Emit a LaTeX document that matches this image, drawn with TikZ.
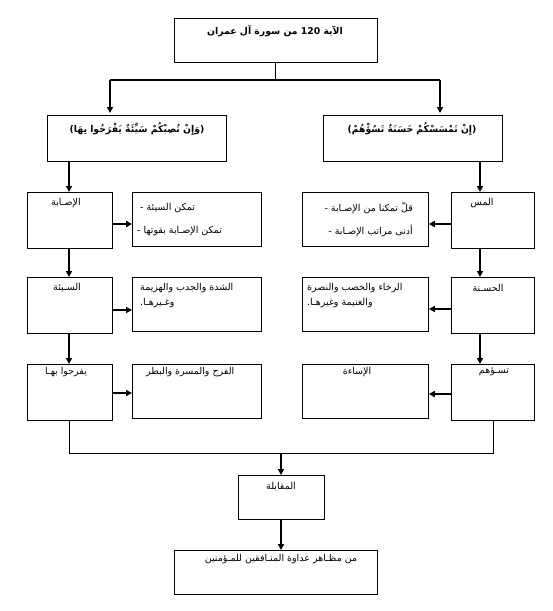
\documentclass[tikz,border=0pt]{standalone}
\usepackage{fontspec}
\newfontfamily\arabicfont[Script=Arabic]{DejaVu Sans}
\TeXXeTstate=1
\usetikzlibrary{arrows.meta}
\tikzset{
  box/.style={draw=black, line width=0.8pt, anchor=north west, inner sep=0pt},
  txt/.style={font=\arabicfont\fontsize{9.5}{11}\selectfont, inner sep=0pt},
  btxt/.style={font=\arabicfont\bfseries\fontsize{9.3}{11}\selectfont, inner sep=0pt},
  arr/.style={line width=1.6pt, -{Triangle[length=6pt,width=6pt]}},
  thickline/.style={line width=1.6pt},
  thinline/.style={line width=0.8pt}
}
\begin{document}
\begin{tikzpicture}[x=1pt,y=-1pt]
\useasboundingbox (0,0) rectangle (553,611);
% boxes
\node[box, minimum width=203pt, minimum height=44pt] (top) at (174,18) {};
\node[box, minimum width=179pt, minimum height=46pt] (bl) at (47,115) {};
\node[box, minimum width=179pt, minimum height=46pt] (br) at (323,115) {};
\node[box, minimum width=85pt, minimum height=56pt] (l1) at (27,192) {};
\node[box, minimum width=129pt, minimum height=54pt] (l1d) at (132,192) {};
\node[box, minimum width=126pt, minimum height=54pt] (r1d) at (302,192) {};
\node[box, minimum width=83pt, minimum height=56pt] (r1) at (451,192) {};
\node[box, minimum width=85pt, minimum height=56pt] (l2) at (27,277) {};
\node[box, minimum width=129pt, minimum height=54pt] (l2d) at (132,277) {};
\node[box, minimum width=126pt, minimum height=54pt] (r2d) at (302,277) {};
\node[box, minimum width=83pt, minimum height=56pt] (r2) at (451,277) {};
\node[box, minimum width=85pt, minimum height=56pt] (l3) at (27,364) {};
\node[box, minimum width=129pt, minimum height=54pt] (l3d) at (132,364) {};
\node[box, minimum width=126pt, minimum height=54pt] (r3d) at (302,364) {};
\node[box, minimum width=83pt, minimum height=56pt] (r3) at (451,364) {};
\node[box, minimum width=86pt, minimum height=44pt] (mid) at (238,475) {};
\node[box, minimum width=203pt, minimum height=44pt] (bot) at (174,550) {};
% texts
\node[btxt] (topt) at (275,31) {\beginR الآية \beginL120\endL{} من سورة آل عمران\endR};
\node[btxt] (blt) at (137,129) {\beginR(وَإِنْ تُصِبْكُمْ سَيِّئَةٌ يَفْرَحُوا بِهَا)\endR};
\node[btxt] (brt) at (412,129) {\beginR(إِنْ تَمْسَسْكُمْ حَسَنَةٌ تَسُؤْهُمْ)\endR};
\node[txt] (l1t) at (66,203) {\beginR الإصـابة\endR};
\node[txt, anchor=west] (l1da) at (140,208) {-\hspace{3pt}\beginR تمكن السيئة\endR};
\node[txt, anchor=west] (l1db) at (137,231) {-\hspace{3pt}\beginR تمكن الإصـابة بقوتها\endR};
\node[txt, anchor=east] (r1da) at (413,208) {-\hspace{3pt}\beginR قلّ تمكنا من الإصـابة\endR};
\node[txt, anchor=east] (r1db) at (413,231) {-\hspace{3pt}\beginR أدنى مراتب الإصـابة\endR};
\node[txt] (r1t) at (482,203) {\beginR المس\endR};
\node[txt] (l2t) at (67,288) {\beginR السـيئة\endR};
\node[txt, anchor=west] (l2da) at (140,288) {\beginR الشدة والجدب والهزيمة\endR};
\node[txt, anchor=west] (l2db) at (140,303) {\beginR وغـيرهـا.\endR};
\node[txt, anchor=west] (r2da) at (307,288) {\beginR الرخاء والخصب والنصرة\endR};
\node[txt, anchor=west] (r2db) at (307,303) {\beginR والغنيمة وغيرهـا.\endR};
\node[txt] (r2t) at (488,288) {\beginR الحسـنة\endR};
\node[txt] (l3t) at (66,372) {\beginR يفرحوا بهـا\endR};
\node[txt, anchor=west] (l3da) at (146,372) {\beginR الفرح والمسرة والبطر\endR};
\node[txt] (r3da) at (357,372) {\beginR الإساءة\endR};
\node[txt] (r3t) at (494,372) {\beginR تسـؤهم\endR};
\node[txt] (midt) at (281,487) {\beginR المقابلة\endR};
\node[txt] (bott) at (281,559) {\beginR من مظـاهر عداوة المنـافقين للمـؤمنين\endR};
% junction coordinates
\coordinate (j0) at (275,80);
\coordinate (jl) at (110,80);
\coordinate (jr) at (440,80);
\coordinate (tl) at (110,113);
\coordinate (tr) at (440,113);
\coordinate (ml) at (69,453);
\coordinate (mr) at (493,453);
\coordinate (mm) at (281,453);
% connectors
\draw[thinline] (top.south -| j0) -- (j0);
\draw[thickline] (jl) -- (jr);
\draw[arr] (jl) -- (tl);
\draw[arr] (jr) -- (tr);
\draw[arr] (bl.south -| 69,0) -- (l1.north -| 69,0);
\draw[arr] (br.south -| 480,0) -- (r1.north -| 480,0);
\draw[arr] (l1.south -| 69,0) -- (l2.north -| 69,0);
\draw[arr] (l2.south -| 69,0) -- (l3.north -| 69,0);
\draw[arr] (r1.south -| 480,0) -- (r2.north -| 480,0);
\draw[arr] (r2.south -| 480,0) -- (r3.north -| 480,0);
\draw[arr] (l1.east |- 0,224) -- (l1d.west |- 0,224);
\draw[arr] (l2.east |- 0,310) -- (l2d.west |- 0,310);
\draw[arr] (l3.east |- 0,393) -- (l3d.west |- 0,393);
\draw[arr] (r1.west |- 0,224) -- (r1d.east |- 0,224);
\draw[arr] (r2.west |- 0,309) -- (r2d.east |- 0,309);
\draw[arr] (r3.west |- 0,394) -- (r3d.east |- 0,394);
\draw[thinline] (l3.south -| ml) -- (ml) -- (mr) -- (r3.south -| mr);
\draw[arr] (mm) -- (mid.north -| mm);
\draw[arr] (mid.south -| mm) -- (bot.north -| mm);
\end{tikzpicture}
\end{document}
